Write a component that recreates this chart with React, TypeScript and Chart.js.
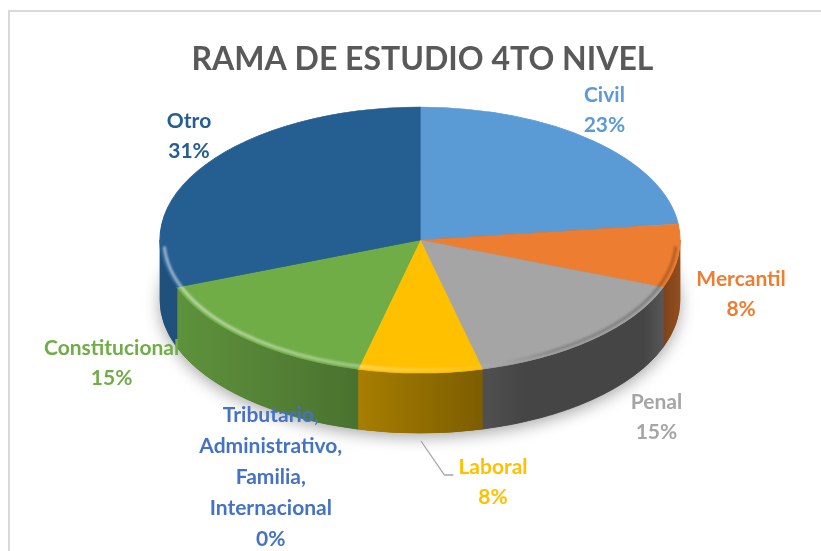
import React, { useEffect, useRef } from "react";
import { Chart, registerables } from "chart.js";

Chart.register(...registerables);

// ---- data ----
const categories = [
  "Civil",
  "Mercantil",
  "Penal",
  "Laboral",
  "Tributario, Administrativo, Familia, Internacional",
  "Constitucional",
  "Otro",
];
const labelLines = [
  ["Civil"],
  ["Mercantil"],
  ["Penal"],
  ["Laboral"],
  ["Tributario,", "Administrativo,", "Familia,", "Internacional"],
  ["Constitucional"],
  ["Otro"],
];
const counts = [3, 1, 2, 1, 0, 2, 4];
const colors = ["#5B9BD5", "#ED7D31", "#A5A5A5", "#FFC000", "#4472C4", "#70AD47", "#255E91"];
const titleText = "RAMA DE ESTUDIO 4TO NIVEL";

// ---- layout / style ----
const CX = 420;
const CY = 240;
const RX = 260;
const RY = 133;
const DEPTH = 60;
const labelOffsets = [
  [12, -30],
  [63, 38],
  [64, 78],
  [73, 109],
  [-87, 108],
  [-136, 24],
  [-17, -28],
];
const leaderFor = [false, false, false, true, false, false, false];
const LABEL_FONT = "bold 21px Lato";

function hexToRgb(h: string) {
  const n = parseInt(h.slice(1), 16);
  return [(n >> 16) & 255, (n >> 8) & 255, n & 255];
}
function shade(h: string, f: number) {
  const [r, g, b] = hexToRgb(h);
  return `rgb(${Math.round(r * f)},${Math.round(g * f)},${Math.round(b * f)})`;
}

const pie3d = {
  id: "pie3d",
  beforeDatasetsDraw(chart: any) {
    const ctx = chart.ctx as CanvasRenderingContext2D;
    const meta = chart.getDatasetMeta(0);
    const arcs = meta.data as any[];
    if (!arcs.length) return;
    const R = arcs[0].outerRadius;
    const ox = arcs[0].x;
    const oy = arcs[0].y;

    // drop shadow under the pie body
    ctx.save();
    ctx.shadowColor = "rgba(0,0,0,0.35)";
    ctx.shadowBlur = 16;
    ctx.shadowOffsetY = 4;
    ctx.fillStyle = "#555";
    ctx.beginPath();
    ctx.ellipse(CX, CY + DEPTH, RX, RY, 0, 0, Math.PI * 2);
    ctx.fill();
    ctx.restore();

    // side walls
    arcs.forEach((arc: any, i: number) => {
      const s = Math.max(arc.startAngle, 0);
      const e = Math.min(arc.endAngle, Math.PI);
      if (e - s <= 1e-6) return;
      const col = colors[i];
      const g = ctx.createLinearGradient(CX - RX, 0, CX + RX, 0);
      g.addColorStop(0, shade(col, 0.86));
      g.addColorStop(0.36, shade(col, 0.67));
      g.addColorStop(0.6, shade(col, 0.5));
      g.addColorStop(0.7, shade(col, 0.42));
      g.addColorStop(0.93, shade(col, 0.42));
      g.addColorStop(1, shade(col, 0.62));
      ctx.save();
      ctx.beginPath();
      ctx.ellipse(CX, CY, RX, RY, 0, s, e, false);
      ctx.lineTo(CX + RX * Math.cos(e), CY + DEPTH + RY * Math.sin(e));
      ctx.ellipse(CX, CY + DEPTH, RX, RY, 0, e, s, true);
      ctx.closePath();
      ctx.fillStyle = g;
      ctx.fill();
      ctx.strokeStyle = g;
      ctx.lineWidth = 0.8;
      ctx.stroke();
      ctx.restore();
    });

    // map the library's circular pie onto the tilted ellipse
    ctx.save();
    ctx.translate(CX, CY);
    ctx.scale(RX / R, RY / R);
    ctx.translate(-ox, -oy);
  },
  afterDatasetsDraw(chart: any) {
    const ctx = chart.ctx as CanvasRenderingContext2D;
    ctx.restore();
    const meta = chart.getDatasetMeta(0);
    const arcs = meta.data as any[];
    if (!arcs.length) return;

    // bevel highlight along the front rim
    ctx.save();
    const hg = ctx.createLinearGradient(CX - RX, 0, CX + RX, 0);
    hg.addColorStop(0, "rgba(255,255,255,0.55)");
    hg.addColorStop(0.4, "rgba(255,255,255,0.35)");
    hg.addColorStop(0.6, "rgba(255,255,255,0.1)");
    hg.addColorStop(0.75, "rgba(0,0,0,0.18)");
    hg.addColorStop(1, "rgba(0,0,0,0.25)");
    ctx.filter = "blur(1.2px)";
    ctx.strokeStyle = hg;
    ctx.lineWidth = 3;
    ctx.beginPath();
    ctx.ellipse(CX, CY, RX - 4, RY - 3, 0, 0.05, Math.PI - 0.05);
    ctx.stroke();
    ctx.restore();

    // labels
    const total = counts.reduce((a, b) => a + b, 0);
    ctx.save();
    ctx.font = LABEL_FONT;
    ctx.textAlign = "center";
    ctx.textBaseline = "middle";
    arcs.forEach((arc: any, i: number) => {
      const mid = (arc.startAngle + arc.endAngle) / 2;
      const px = CX + RX * Math.cos(mid) + labelOffsets[i][0];
      const py = CY + RY * Math.sin(mid) + labelOffsets[i][1];
      const pct = Math.round((counts[i] / total) * 100) + "%";
      const lines = [...labelLines[i], pct];
      const lh = lines.length > 2 ? 31 : 30;
      const y0 = py - ((lines.length - 1) * lh) / 2;
      ctx.fillStyle = colors[i];
      lines.forEach((t, k) => ctx.fillText(t, px, y0 + k * lh));
      if (leaderFor[i]) {
        const w = ctx.measureText(lines[0]).width;
        const sx = CX + RX * Math.cos(mid) + 1;
        const sy = CY + DEPTH + RY * Math.sin(mid) + 8;
        const ex = px - w / 2 - 5;
        const ey = y0 + 8;
        ctx.strokeStyle = "#A6A6A6";
        ctx.lineWidth = 1.3;
        ctx.beginPath();
        ctx.moveTo(sx, sy);
        ctx.lineTo(ex - 9, ey);
        ctx.lineTo(ex, ey);
        ctx.stroke();
      }
    });
    ctx.restore();
  },
};

export default function App() {
  const ref = useRef<HTMLCanvasElement | null>(null);
  useEffect(() => {
    if (!ref.current) return;
    const chart = new Chart(ref.current, {
      type: "pie",
      data: {
        labels: categories,
        datasets: [
          {
            data: counts,
            backgroundColor: colors,
            borderColor: colors,
            borderWidth: 1,
            clip: false as any,
          },
        ],
      },
      options: {
        responsive: true,
        maintainAspectRatio: false,
        animation: false,
        events: [],
        layout: { padding: { left: 24, right: 0, top: 0, bottom: 10 } },
        plugins: {
          legend: { display: false },
          tooltip: { enabled: false },
          title: {
            display: true,
            text: titleText,
            color: "#595959",
            font: { family: "Lato", size: 32, weight: "bold" },
            padding: { top: 40, bottom: 10 },
          },
        },
      },
      plugins: [pie3d],
    });
    return () => chart.destroy();
  }, []);
  return (
    <div
      style={{
        position: "fixed",
        left: 0,
        top: 0,
        width: 821,
        height: 551,
        overflow: "hidden",
        background: "#fff",
      }}
    >
      <div
        style={{
          position: "absolute",
          left: 8,
          top: 10,
          width: 900,
          height: 700,
          border: "2px solid #D9D9D9",
        }}
      />
      <canvas
        ref={ref}
        style={{ position: "absolute", left: 0, top: 0, width: 821, height: 551 }}
      />
    </div>
  );
}
